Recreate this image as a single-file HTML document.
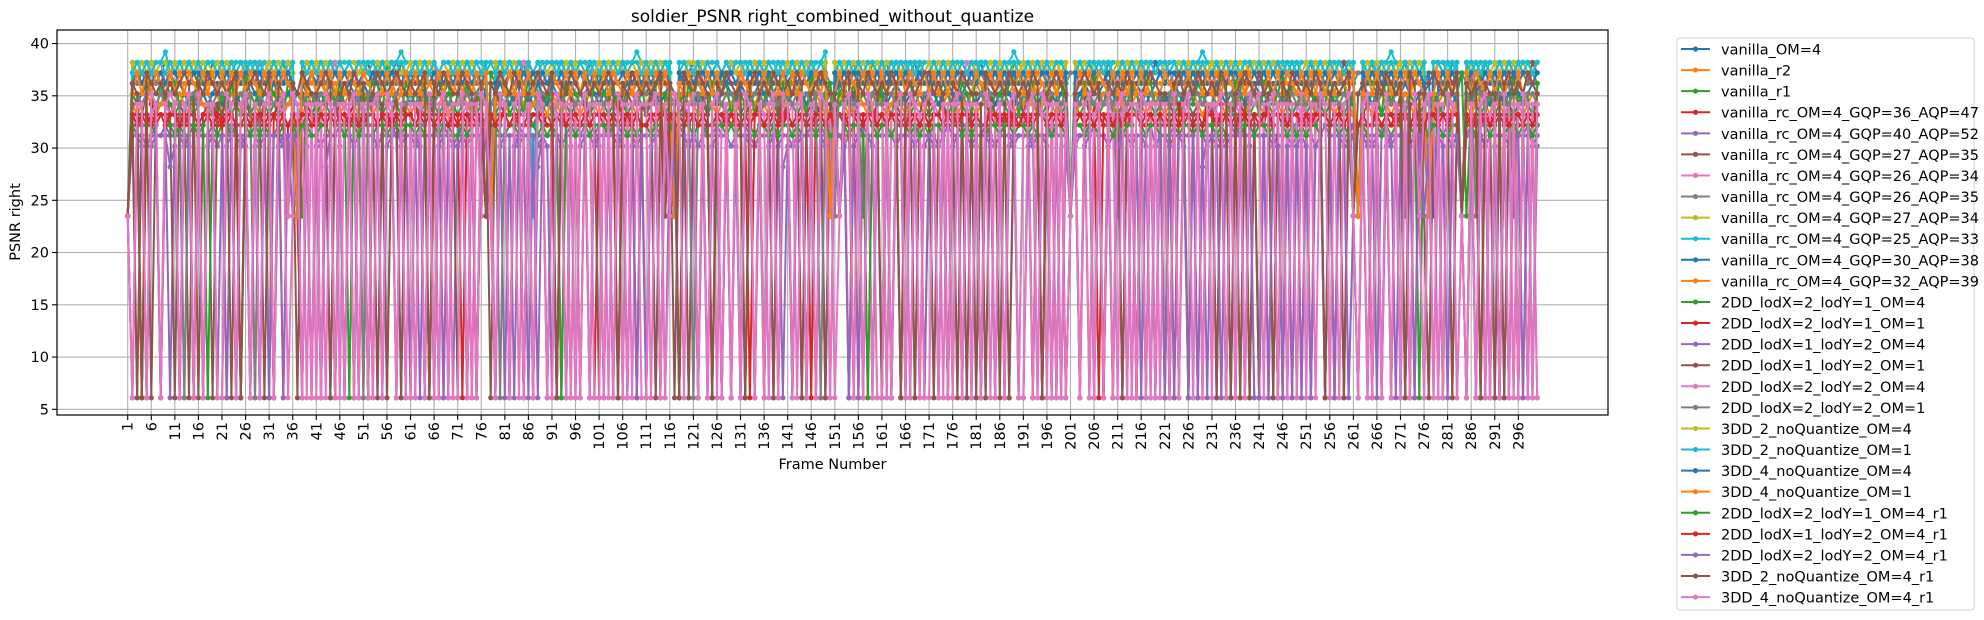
<!DOCTYPE html>
<html><head><meta charset="utf-8"><title>soldier_PSNR right_combined_without_quantize</title>
<style>html,body{margin:0;padding:0;background:#fff}svg{display:block}text{font-family:"DejaVu Sans","Liberation Sans",sans-serif;fill:#000}</style>
</head><body>
<svg id="chart" width="1984" height="620" viewBox="0 0 1984 620" xmlns="http://www.w3.org/2000/svg">
<text x="832.5" y="22" font-size="17" text-anchor="middle">soldier_PSNR right_combined_without_quantize</text>
<g id="grid"></g>
<g id="series"></g>
<rect x="57" y="30" width="1551" height="385" fill="none" stroke="#000" stroke-width="1.2"/>
<g id="yticks"></g>
<g id="xticks"></g>
<text transform="translate(20,222) rotate(-90)" font-size="14.5" text-anchor="middle">PSNR right</text>
<text x="832.5" y="469" font-size="14.5" text-anchor="middle">Frame Number</text>
<g id="legend">
<rect x="1677" y="38" width="297" height="572" rx="3" fill="#fff" stroke="#d0d0d0" stroke-width="1"/>
</g>
</svg>
<script>
// ---- data ----
// code: '0'..'9' -> 30.2..39.2, 'a'..'j' -> 20.2..29.2, 'x' -> 6.1 (drop), 'y' -> 23.5
const seriesNames = ["vanilla_OM=4","vanilla_r2","vanilla_r1","vanilla_rc_OM=4_GQP=36_AQP=47","vanilla_rc_OM=4_GQP=40_AQP=52","vanilla_rc_OM=4_GQP=27_AQP=35","vanilla_rc_OM=4_GQP=26_AQP=34","vanilla_rc_OM=4_GQP=26_AQP=35","vanilla_rc_OM=4_GQP=27_AQP=34","vanilla_rc_OM=4_GQP=25_AQP=33","vanilla_rc_OM=4_GQP=30_AQP=38","vanilla_rc_OM=4_GQP=32_AQP=39","2DD_lodX=2_lodY=1_OM=4","2DD_lodX=2_lodY=1_OM=1","2DD_lodX=1_lodY=2_OM=4","2DD_lodX=1_lodY=2_OM=1","2DD_lodX=2_lodY=2_OM=4","2DD_lodX=2_lodY=2_OM=1","3DD_2_noQuantize_OM=4","3DD_2_noQuantize_OM=1","3DD_4_noQuantize_OM=4","3DD_4_noQuantize_OM=1","2DD_lodX=2_lodY=1_OM=4_r1","2DD_lodX=1_lodY=2_OM=4_r1","2DD_lodX=2_lodY=2_OM=4_r1","3DD_2_noQuantize_OM=4_r1","3DD_4_noQuantize_OM=4_r1"];
const xTickLabels = [];
for (let f = 1; f <= 296; f += 5) xTickLabels.push(String(f));
const yTickLabels = ["5","10","15","20","25","30","35","40"];
const frameCount = 300;
function decode(s){const o=[];for(const c of s.replace(/ /g,"")){if(c==='x')o.push(6.1);else if(c==='y')o.push(23.5);else if(c>='0'&&c<='9')o.push(30.2+(+c));else o.push(20.2+(c.charCodeAt(0)-97));}return o;}
const vanilla_OM4 = decode("y876776787 6778767687 7676786767 767867y677 6787767676 7768767876 7676787677 6787676y76 7767867767 6787767687 7676787677 676776y767 8767767687 7678767676 787677677y 6787767687 7678767867 6767877676 7867767687 7678767676 y767867767 6787767687 7676787677 6767767687 7678767676 7867767687 7y67877676 7867767y67 687y767687 7678767676");
const vanilla_r2 = decode("y666566676 5666765666 6566676566 656665y666 6656665766 6566676566 6665666576 5666566y66 6566676566 6656665766 6566676566 566665y666 6656665766 6566676566 665666576y 5666566676 6566676566 6656665766 6566676566 6665666576 y666566676 6566676566 6656665766 6566676566 6665666576 5666566676 6y66676566 665666y766 656y676566 6656665766");
const vanilla_r1 = decode("y434543454 3454345434 5434543454 343454y543 4543454345 3454345434 5434543454 3454345y34 4543454345 3454345434 5434543454 345434y454 4543454345 3454345434 543454345y 3454345434 5434543454 3454345434 4543454345 3454345434 y434543454 3454345434 5434543454 3454345434 4543454345 3454345434 5y34543454 345434y434 454y454345 3454345434");
const rc_36_47 = decode("y323232332 2323322323 3232233232 232323y232 3223232323 2332323223 3232322332 2323232y23 3232232323 2323322323 3223232332 232332y323 3232232323 2323322332 322323232y 2323322323 3232232323 2332323223 3223232323 2323322332 y232323223 2323322323 3232232332 2323232323 3223323223 2323322323 3y32232323 232332y323 322y232323 2323322332");
const rc_40_52 = decode("y111011121 1101211110 1121011101 111011y211 1011121101 1110111201 1011111210 1101112y11 1110111011 1101211110 1121011101 112101y110 1011121101 1110111201 101111121y 1101112111 1110111011 1101211110 1121011101 1101112111 y011121101 1110111201 1011111210 1101112111 1110111011 1101211110 1y21011101 110111y011 101y121101 1110111201");
const rc_27_35 = decode("y767787677 7678767767 6787767687 767867y767 7677867676 7867767687 7678767767 6787767y67 7767867767 6787767687 7767876767 678767y676 7867767687 7678767767 678776768y 7677867676 7867767687 7678767767 6787767687 7767867767 y787767687 7767876767 6787676767 7867767687 7678767767 6787767687 7y77867676 786776y687 767y767767 6787767687");
const rc_26_34 = decode("y677677867 6776786767 7767677687 677687y767 6767867767 7676787677 6776786767 7767677y87 6776876767 6767867767 7676787677 677678y767 7767677687 6776876767 676786776y 7676787677 6776786767 7767677687 6776876767 6767867767 y676787677 6776786767 7767677687 6776876767 6767867767 7676787677 6y76786767 776767y687 677y876767 6767867767");
const rc_26_35 = decode("y767676777 6776776767 7677676776 776767y677 6767767676 7767677677 6776776767 7677676y76 7767676777 6767767676 7767677677 677677y767 7677676776 7767676777 6767767676 y767677677 6776776767 7677676776 7767676777 6767767676 7767677677 y776776767 7677676776 7767676777 6767767676 7767677677 6776776767 7y77676776 776767y777 6767y67676");
const rc_27_34 = decode("y878787887 7887878778 8787787878 787887y787 8778787887 7887878778 8787787878 7878878y87 8778787887 7887878778 8787787878 787887y778 8778787887 7887878778 878778787y 7878878787 8778787887 7887878778 8787787878 7878878787 y778787887 7887878778 8787787878 7878878787 8778787887 7887878778 8y87787878 787887y787 877y787887 7887878778");
const rc_25_33 = decode("y887878897 8788787888 7878887878 887878y788 8878788878 7887878898 8788787888 7878887878 887878y788 8878788878 7887878898 878878y888 7878887878 8878788878 788787889y 8788787888 7878887878 8878788878 7887878898 8788787888 y878887878 8878788878 7887878898 8788787888 7878887878 8878788878 7y87878898 878878y888 787y887878 8878788878");
const rc_30_38 = decode("y545654565 5654565456 4565456545 565456y654 5456545654 6545654565 4565456545 5654565y56 5456545654 6545654565 4565456545 565456y654 5456545654 6545654565 456545654y 5654565456 5456545654 6545654565 4565456545 5654565456 y456545654 6545654565 4565456545 5654565456 5456545654 6545654565 4y65456545 565456y456 545y545654 6545654565");
const rc_32_39 = decode("y434543453 4543454345 3454345434 454345y345 4345434543 5434543454 3454345434 4543454y45 4345434543 5434543454 3454345434 454345y345 4345434543 5434543454 345434543y 4543454345 4345434543 5434543454 3454345434 4543454345 y345434543 5434543454 3454345434 4543454345 4345434543 5434543454 3y54345434 454345y345 434y434543 5434543454");
const dd_21_om4 = decode("y54x653645 6435476543 5364375463 6543654y65 3457464x56 4566385436 5456347563 546354y764 6345376435 4x36554536 7546363456 356x54y536 4753647635 5463547536 4765374356 356463y354 6x35456435 4756534653 7643554673 546354x563 y546375463 3x46537645 5563474653 4675367x45 3664573654 6635474563 5y47653746 5354x6y543 6557y46735 46537455x6");
const dd_21_om1 = decode("yx32x43x23 4x32x4x342 3x2x43x324 x34x23yx43 2x3x42x34x 32x4x23x43 x42x3x4x23 3x4x32y4x2 4x23x4x32x 23x4x3x24x 3x2x43x2x4 x32x4y3x42 3x4x23x4x3 x2x34x3x42 4x3x2x43x2 3y2x4x3x24 x4x32x4x3x 23x42x3x4x 3x24x3x42x x3x4x23x4x y2x3x4x32x 4x32x4x3x2 x3x42x3x24 3x4x2x43x2 x24x3x4x3x 2x43x2x4x3 yx3x24x3x4 x3x42yx32x 4x3yx4x23x 3x2x4x3x42");
const dd_12_om4 = decode("y1x2x12x1x 21x1x2x12x 1x21x1x2x1 x12x1y2x1x 2x1x12x1x2 1x2x1x21x1 x1x2x12x1x 21x1x2y1x2 x1x21x1x2x 1x2x1x12x1 2x1x21x1x2 x1x2x1y21x 1x12x1x2x1 x21x1x2x1x 1x2x12x1x2 2y1x1x21x1 x1x2x1x12x 1x21x1x2x1 x2x1x12x1x 21x1x2x1x2 y1x21x1x2x 1x2x1x12x1 x12x1x2x1x 2x1x21x1x2 x1x2x1x12x 1x21x1x2x1 2y1x1x21x1 x1x2yx12x1 21xyx1x2x1 x1x2x1x21x");
const dd_12_om1 = decode("y4x35x4x53 x43x5x34x4 35x4x53x4x 4x35y4x53x 5x4x34x5x4 x53x4x35x4 4x5x43x5x3 x4x35y4x54 3x54x3x45x 5x4x53x4x3 x45x3x54x4 35x4y5x34x 4x53x4x3x5 x34x5x4x53 4x5x34x5x4 3y4x53x4x5 x5x43x4x35 4x35x4x5x3 x4x53x4x45 35x4x35x4x y4x53x4x3x 5x34x5x4x5 x43x5x34x4 4x5x43x5x3 x35x4x54x3 4x53x4x3x5 yx34x5x4x3 5x4x5yx43x 4x3yx5x4x3 x5x43x4x35");
const dd_22_om4 = decode("yx44x34x43 4x43x4x34x x34x43x4x4 4x43xy34x4 x4x34x43x4 34x4x43x4x 4x43x4x34x x34x4y43x4 4x4x34x43x 43x4x4x34x x4x43x4x34 4x34xy4x43 x43x4x34x4 4x4x43x4x3 34x4x34x43 xy4x43x4x4 4x34x4x43x x43x4x4x34 4x4x34x43x 34x43x4x4x y4x4x34x43 x34x43x4x4 4x4x34x4x3 43x4x43x4x x4x34x4x43 4x43x4x34x yx4x43x4x4 34x4yx34x4 x43yx4x4x3 4x34x43x4x");
const dd_22_om1 = decode("y554554545 54x5545545 5545545x54 5454y45455 4555455545 x554554554 5545545545 545455y45x 4554555455 5x45545554 5455545545 5545y54554 x545554554 5545545545 5455545x45 5y45455454 4554555455 54x5545545 5545545454 5455545545 y545545454 5545545545 x545545545 5455545545 5545545545 4554555455 5y45545545 5455y5455x 455y545545 45545x4554");
const d3_2_om4 = decode("y878787887 8787877878 7877878787 878787y787 8787787877 8778787787 8787877878 7878778y87 8787787877 8778787787 8787877878 787877y778 8787787877 8778787787 878787778y 8787877878 7877878787 8787787877 8778787787 8787877878 y878778787 8787787877 8778787787 8787877878 7878778787 8787787877 8y78787787 878787y787 878y778787 8787787877");
const d3_2_om1 = decode("y787878878 7878787887 8787878787 787878y878 7878787878 8787878787 7878787887 8787878y78 7878787878 8787878787 7878787887 878787y787 7878787878 8787878787 787878787y 7878787887 8787878787 7878787878 8787878787 7878787887 y787878787 7878787878 8787878787 7878787887 8787878787 7878787878 8y87878787 787878y887 878y878787 7878787878");
const d3_4_om4 = decode("y676767767 7676776767 6767677676 767676y767 6776767676 7676767767 6767677676 7676767y67 6776767676 7676767767 6767677676 767676y767 6776767676 7676767767 676767767y 7676776767 6767677676 7676767767 6776767676 7676776767 y767677676 7676767767 6776767676 7676776767 6767677676 7676767767 6y76767676 767676y767 676y677676 7676767767");
const d3_4_om1 = decode("y575757657 5757657575 7575757657 575765y757 5757575765 7657575757 5757657575 7575757y57 5757575765 7657575757 5757657575 757575y657 5757575765 7657575757 575765757y 5757657575 7575757657 5757575765 7657575757 5757657575 y575757657 5757575765 7657575757 5757657575 7575757657 5757575765 7y57575757 575765y575 757y757657 5757575765");
const dd_21_om4_r1 = decode("y21x221x22 1211212x21 2212x21212 1x12y21221 1221x21221 2x12212212 2121x21221 1212x2y221 1221x22121 21x2212212 2212x21212 2122y21x22 1221x22121 2x21221212 2121x21221 1y21221x21 2212x21212 1221x22121 2x12212212 2121x21221 y221221x21 2122x21221 1x21221212 2121x21221 2212x21212 1221x22121 y221x21212 2x21y21221 122y221x21 2x12212212");
const dd_12_om4_r1 = decode("y32x323323 3233x23323 2332x32332 3x23y32332 2323x33232 3x32332323 3233x23323 2332x3y323 3233x23332 2x32332323 3323x23232 2333y32x23 3232x33232 2x23323323 3233x23323 2y32x32332 3233x23323 2332x32332 3x23323232 3233x23323 y332323x32 3233x23323 2x32332323 3233x23323 2332x32332 3233x23323 y232x32332 3x23y23323 233y323x32 3x32332323");
const dd_22_om4_r1 = decode("yx10x01x1i 0x10x1x01x x01x10x0x1 1x01y10x0x 0xi1x0x10x 1x10x01x1x x10x1x01x0 01x1x10yx0 1x01x1xi10 x10x0x01x1 0x1x10x0x1 x01x1y0x10 1x0x01x1x0 x10x1x01xi 0x01x1x10x 1y0x01x10x x1x01x10x0 10x1x01x1x 0x10x1x01x x01x10x1x0 y1x01x1x0x 01x1x10x01 x0x10x1xi1 10x01x1x0x x1x10x0x01 0x01x1x10x yx10x0x01x 1x0x1y0x10 x01yx1x10x 0x1x01x1x0");
const d3_2_om4_r1 = decode("y65x765656 5676x65765 6567x56765 7x65y65765 5676x56576 6x57656765 6567x65765 5765x6y657 6576x56765 7x65765656 5676x65765 6567y65x76 5765x65765 6x67565765 6576x56765 5y67x65765 6576x56567 7565x65765 5x76565765 6576x56765 y567656x65 6576x56765 5x67565765 6576x56765 7565x65765 6576x56567 y565x65765 6x76y56765 657y656x65 5x67565765");
const d3_4_om4_r1 = decode("yx44x54x45 4x45x5x44x x54x45x4x4 5x45y54x4x 4x54x4x45x 4x45x54x4x x44x5x45x4 45x4x54yx5 4x45x4x54x x54x4x45x4 4x4x54x45x x45x4y54x4 5x4x45x4x4 x54x4x45x5 4x45x4x54x 4y45x4x54x x4x45x54x4 54x4x45x4x 4x54x4x45x x45x54x4x4 y4x45x4x5x 45x4x54x4x 4x5x45x4x4 x45x4x4x54 5x45x4x4x5 x4x54x4x45 yx45x4x5x4 x4x5y45x4x 54xyx4x45x 4x5x4x54x4");
const seriesValues = [vanilla_OM4,vanilla_r2,vanilla_r1,rc_36_47,rc_40_52,rc_27_35,rc_26_34,rc_26_35,rc_27_34,rc_25_33,rc_30_38,rc_32_39,dd_21_om4,dd_21_om1,dd_12_om4,dd_12_om1,dd_22_om4,dd_22_om1,d3_2_om4,d3_2_om1,d3_4_om4,d3_4_om1,dd_21_om4_r1,dd_12_om4_r1,dd_22_om4_r1,d3_2_om4_r1,d3_4_om4_r1];

// ---- drawing ----
const NS = "http://www.w3.org/2000/svg";
const colors = ["#1f77b4","#ff7f0e","#2ca02c","#d62728","#9467bd","#8c564b","#e377c2","#7f7f7f","#bcbd22","#17becf"];
const X0 = 127.7, PXF = 4.714;
function xScale(frame){return X0 + (frame - 1) * PXF;}
function yScale(v){return 409.3 - (v - 5) * 10.45;}
function mk(tag, attrs, parent){const e=document.createElementNS(NS,tag);for(const k in attrs)e.setAttribute(k,attrs[k]);parent.appendChild(e);return e;}

const grid = document.getElementById("grid");
const yt = document.getElementById("yticks");
const xt = document.getElementById("xticks");
yTickLabels.forEach(function(lab){
  const y = yScale(+lab);
  const gl = mk("line",{x1:57,x2:1608,y1:y,y2:y,stroke:"#b0b0b0","stroke-width":1.1},grid);
  
  
  const tk = mk("line",{x1:52,x2:57,y1:y,y2:y,stroke:"#000","stroke-width":1.1},yt);
  
  
  const t = mk("text",{x:49,y:y+5,"font-size":14.5,"text-anchor":"end"},yt);
  t.textContent = lab;
  
  
});
xTickLabels.forEach(function(lab){
  const x = xScale(+lab);
  const gl = mk("line",{x1:x,x2:x,y1:30,y2:415,stroke:"#b0b0b0","stroke-width":1.1},grid);
  
  
  const tk = mk("line",{x1:x,x2:x,y1:415,y2:420,stroke:"#000","stroke-width":1.1},xt);
  
  
  const t = mk("text",{transform:"translate("+(x+5)+",422) rotate(-90)","font-size":14.5,"text-anchor":"end"},xt);
  t.textContent = lab;
  
  
});

const sg = document.getElementById("series");
seriesValues.forEach(function(vals, i){
  const col = colors[i % 10];
  const g = mk("g",{},sg);
  
  
  let d = "";
  vals.forEach(function(v, k){ d += (k ? "L" : "M") + xScale(k+1).toFixed(1) + " " + yScale(v).toFixed(1); });
  const p = mk("path",{d:d,fill:"none",stroke:col,"stroke-width":2,"stroke-linejoin":"round"},g);
  
  
  vals.forEach(function(v, k){
    const c = mk("circle",{cx:xScale(k+1).toFixed(1),cy:yScale(v).toFixed(1),r:2.6,fill:col},g);
    
    
  });
});

const lg = document.getElementById("legend");
seriesNames.forEach(function(nm, i){
  const y = 49 + i * 21.08;
  const col = colors[i % 10];
  const g = mk("g",{},lg);
  
  
  mk("line",{x1:1681,x2:1710,y1:y,y2:y,stroke:col,"stroke-width":2},g);
  mk("circle",{cx:1695.5,cy:y,r:2.6,fill:col},g);
  const t = mk("text",{x:1721,y:y+5.5,"font-size":14.5},g);
  t.textContent = nm;
});
</script>
</body></html>
